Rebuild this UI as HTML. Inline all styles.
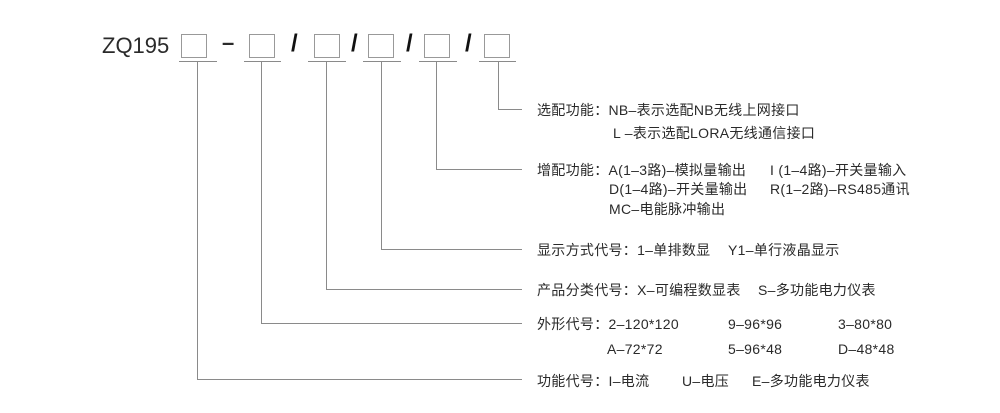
<!DOCTYPE html>
<html><head><meta charset="utf-8"><style>
body{margin:0;width:1000px;height:413px;background:#fff;position:relative;overflow:hidden;font-family:"Liberation Sans","Noto Sans CJK SC",sans-serif;color:#2a2a2a}
.t{position:absolute;font-size:14px;line-height:16px;white-space:nowrap;letter-spacing:0.3px}
.l{position:absolute;background:#8a8a8a}
.b{position:absolute;border:1px solid #999;width:24px;height:22px;top:34px}
.u{position:absolute;height:1px;background:#8a8a8a;top:61px}
.s{position:absolute;font-size:24px;top:30px;color:#111;font-weight:bold}
</style></head><body>
<div class="t" style="left:102px;top:33px;font-size:22px;line-height:26px;letter-spacing:0">ZQ195</div>
<div class="b" style="left:181px"></div><div class="u" style="left:179px;width:38px"></div>
<div class="t" style="left:222px;top:30px;font-size:22px;line-height:26px;font-weight:bold">–</div>
<div class="b" style="left:249px"></div><div class="u" style="left:244px;width:37px"></div>
<div class="s" style="left:291px">/</div>
<div class="b" style="left:314px"></div><div class="u" style="left:308px;width:38px"></div>
<div class="s" style="left:351px">/</div>
<div class="b" style="left:368px"></div><div class="u" style="left:363px;width:38px"></div>
<div class="s" style="left:406px">/</div>
<div class="b" style="left:424px"></div><div class="u" style="left:419px;width:38px"></div>
<div class="s" style="left:465px">/</div>
<div class="b" style="left:484px"></div><div class="u" style="left:479px;width:37px"></div>

<div class="l" style="left:498px;top:62px;width:1px;height:48px"></div><div class="l" style="left:498px;top:109px;width:24px;height:1px"></div>
<div class="l" style="left:436px;top:62px;width:1px;height:108px"></div><div class="l" style="left:436px;top:169px;width:86px;height:1px"></div>
<div class="l" style="left:381px;top:62px;width:1px;height:188px"></div><div class="l" style="left:381px;top:249px;width:141px;height:1px"></div>
<div class="l" style="left:326px;top:62px;width:1px;height:228px"></div><div class="l" style="left:326px;top:289px;width:196px;height:1px"></div>
<div class="l" style="left:261px;top:62px;width:1px;height:262px"></div><div class="l" style="left:261px;top:323px;width:261px;height:1px"></div>
<div class="l" style="left:197px;top:62px;width:1px;height:318px"></div><div class="l" style="left:197px;top:379px;width:325px;height:1px"></div>

<div class="t" style="left:537px;top:102px">选配功能：NB–表示选配NB无线上网接口</div>
<div class="t" style="left:613px;top:125px">L –表示选配LORA无线通信接口</div>
<div class="t" style="left:537px;top:162px">增配功能：A(1–3路)–模拟量输出</div>
<div class="t" style="left:770px;top:162px">I (1–4路)–开关量输入</div>
<div class="t" style="left:609px;top:181px">D(1–4路)–开关量输出</div>
<div class="t" style="left:770px;top:181px">R(1–2路)–RS485通讯</div>
<div class="t" style="left:609px;top:201px">MC–电能脉冲输出</div>
<div class="t" style="left:537px;top:242px">显示方式代号：1–单排数显</div>
<div class="t" style="left:728px;top:242px">Y1–单行液晶显示</div>
<div class="t" style="left:537px;top:282px">产品分类代号：X–可编程数显表</div>
<div class="t" style="left:758px;top:282px">S–多功能电力仪表</div>
<div class="t" style="left:537px;top:316px">外形代号：2–120*120</div>
<div class="t" style="left:728px;top:316px">9–96*96</div>
<div class="t" style="left:838px;top:316px">3–80*80</div>
<div class="t" style="left:607px;top:341px">A–72*72</div>
<div class="t" style="left:728px;top:341px">5–96*48</div>
<div class="t" style="left:838px;top:341px">D–48*48</div>
<div class="t" style="left:537px;top:373px">功能代号：I–电流</div>
<div class="t" style="left:682px;top:373px">U–电压</div>
<div class="t" style="left:752px;top:373px">E–多功能电力仪表</div>
</body></html>
